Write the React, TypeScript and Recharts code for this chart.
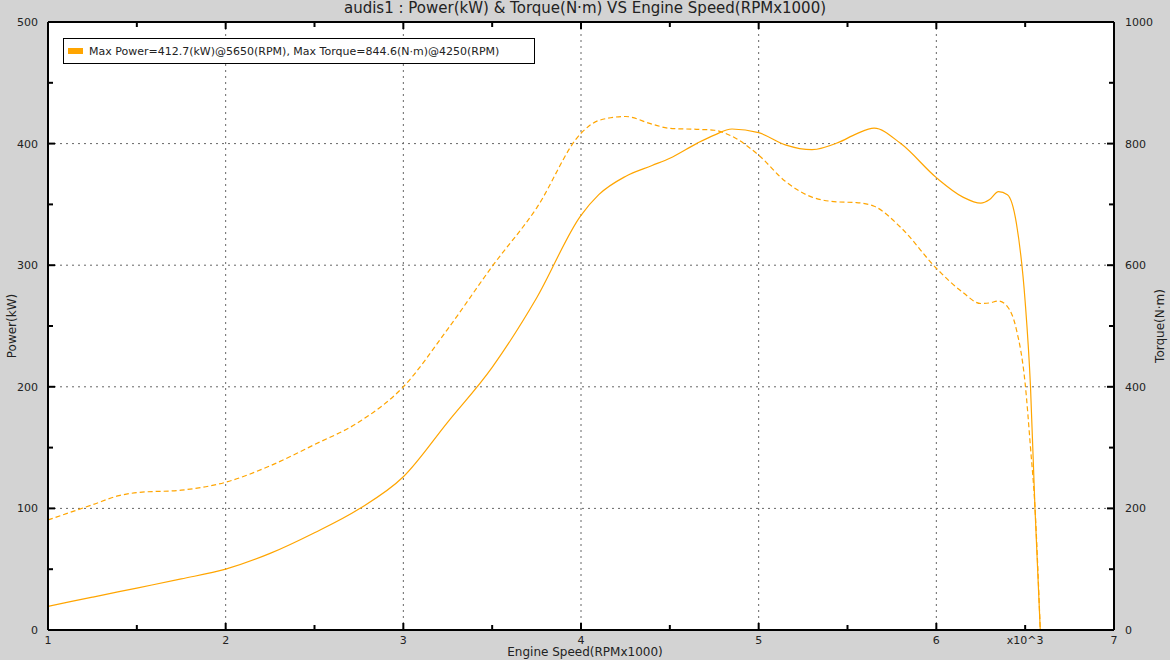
import React from 'react';
import {
  LineChart,
  Line,
  XAxis,
  YAxis,
  ReferenceLine,
} from 'recharts';

// engine speed in RPM x 1000
const rpm = [
  1.0, 1.25, 1.4, 1.5, 1.75, 2.0, 2.25, 2.5, 2.75, 3.0, 3.25, 3.5, 3.75, 4.0,
  4.1, 4.25, 4.4, 4.5, 4.65, 4.75, 4.85, 5.0, 5.15, 5.3, 5.45, 5.55, 5.65, 5.8,
  6.0, 6.15, 6.25, 6.3, 6.35, 6.4, 6.45, 6.5, 6.53, 6.555, 6.585,
];
// kW
const power = [
  19.5, 27, 31.5, 34.5, 42, 50, 63, 80, 99.5, 126, 171, 216, 273, 341,
  358, 373, 382, 388, 400, 407, 412, 409, 399, 395, 401, 408, 412.7, 400,
  372, 356, 351, 354, 360.5, 358, 335, 270, 200, 101, 0,
];
// N·m
const torque = [
  181, 206, 221, 226, 230, 243, 270, 305, 342, 400, 495, 598, 694, 817,
  838, 844.6, 832, 825, 823.5, 822, 812, 781, 738, 712, 704, 703, 697, 662,
  595, 555, 537, 538, 541, 532, 495, 405, 300, 203, 0,
];

const xTicks = [1, 1.5, 2, 2.5, 3, 3.5, 4, 4.5, 5, 5.5, 6, 6.5, 7];
const powerTicks = [0, 50, 100, 150, 200, 250, 300, 350, 400, 450, 500];
const torqueTicks = [0, 100, 200, 300, 400, 500, 600, 700, 800, 900, 1000];
const xGrid = [2, 3, 4, 5, 6];
const powerGrid = [100, 200, 300, 400];

const maxPower = { value: 412.7, rpm: 5650 };
const maxTorque = { value: 844.6, rpm: 4250 };

const data = rpm.map((r, i) => ({ rpm: r, power: power[i], torque: torque[i] }));

const FONT = '"DejaVu Sans", Verdana, sans-serif';
const ORANGE = '#FFA500';
const TXT = '#222';

const BottomTick = (props: any) => {
  const { x, y, payload } = props;
  const v = payload.value;
  const major = Number.isInteger(v);
  const label = major ? String(v) : v === 6.5 ? 'x10^3' : '';
  return (
    <g>
      <line x1={x} x2={x} y1={y} y2={y - (major ? 7 : 5)} stroke="#000" strokeWidth={2} />
      {label && (
        <text x={x} y={y + 14} textAnchor="middle" fontSize={11} fill={TXT} fontFamily={FONT}>
          {label}
        </text>
      )}
    </g>
  );
};

const TopTick = (props: any) => {
  const { x, y, payload } = props;
  const major = Number.isInteger(payload.value);
  return <line x1={x} x2={x} y1={y} y2={y + (major ? 7 : 5)} stroke="#000" strokeWidth={2} />;
};

const LeftTick = (props: any) => {
  const { x, y, payload } = props;
  const major = payload.value % 100 === 0;
  return (
    <g>
      <line x1={x} x2={x + (major ? 7 : 5)} y1={y} y2={y} stroke="#000" strokeWidth={2} />
      {major && (
        <text x={x - 10} y={y + 4} textAnchor="end" fontSize={11} fill={TXT} fontFamily={FONT}>
          {payload.value}
        </text>
      )}
    </g>
  );
};

const RightTick = (props: any) => {
  const { x, y, payload } = props;
  const major = payload.value % 200 === 0;
  return (
    <g>
      <line x1={x} x2={x - (major ? 7 : 5)} y1={y} y2={y} stroke="#000" strokeWidth={2} />
      {major && (
        <text x={x + 11} y={y + 4} textAnchor="start" fontSize={11} fill={TXT} fontFamily={FONT}>
          {payload.value}
        </text>
      )}
    </g>
  );
};

const frame = { stroke: '#000', strokeWidth: 2 };

export default function App() {
  return (
    <div
      style={{
        position: 'absolute',
        left: 0,
        top: 0,
        width: 1170,
        height: 660,
        background: '#d3d3d3',
        fontFamily: FONT,
        color: TXT,
      }}
    >
      {/* plot background */}
      <div style={{ position: 'absolute', left: 48, top: 22, width: 1066, height: 608, background: '#fff' }} />

      <div style={{ position: 'absolute', left: 0, top: 0 }}>
        <LineChart
          width={1170}
          height={660}
          data={data}
          margin={{ top: 21, right: 55, bottom: 29, left: 47 }}
        >
          <XAxis
            xAxisId={0}
            type="number"
            dataKey="rpm"
            domain={[1, 7]}
            ticks={xTicks}
            interval={0}
            height={1}
            tickSize={0}
            tickMargin={0}
            tickLine={false}
            axisLine={frame}
            tick={BottomTick}
            allowDataOverflow
          />
          <XAxis
            xAxisId="top"
            orientation="top"
            type="number"
            dataKey="rpm"
            domain={[1, 7]}
            ticks={xTicks}
            interval={0}
            height={1}
            tickSize={0}
            tickMargin={0}
            tickLine={false}
            axisLine={frame}
            tick={TopTick}
            allowDataOverflow
          />
          <YAxis
            yAxisId="left"
            domain={[0, 500]}
            ticks={powerTicks}
            interval={0}
            width={1}
            tickSize={0}
            tickMargin={0}
            tickLine={false}
            axisLine={frame}
            tick={LeftTick}
            allowDataOverflow
          />
          <YAxis
            yAxisId="right"
            orientation="right"
            domain={[0, 1000]}
            ticks={torqueTicks}
            interval={0}
            width={1}
            tickSize={0}
            tickMargin={0}
            tickLine={false}
            axisLine={frame}
            tick={RightTick}
            allowDataOverflow
          />
          {xGrid.map((v) => (
            <ReferenceLine key={'x' + v} x={v} yAxisId="left" stroke="#666" strokeDasharray="2 4" />
          ))}
          {powerGrid.map((v) => (
            <ReferenceLine key={'y' + v} y={v} yAxisId="left" stroke="#666" strokeDasharray="2 4" />
          ))}
          <Line
            yAxisId="left"
            type="monotone"
            dataKey="power"
            stroke={ORANGE}
            strokeWidth={1.2}
            dot={false}
            isAnimationActive={false}
          />
          <Line
            yAxisId="right"
            type="monotone"
            dataKey="torque"
            stroke={ORANGE}
            strokeWidth={1.2}
            strokeDasharray="5 3"
            dot={false}
            isAnimationActive={false}
          />
        </LineChart>
      </div>

      <div
        style={{
          position: 'absolute',
          top: 0,
          left: 0,
          width: 1170,
          textAlign: 'center',
          fontSize: 15,
          lineHeight: '17px',
        }}
      >
        audis1 : Power(kW) &amp; Torque(N·m) VS Engine Speed(RPMx1000)
      </div>

      <div
        style={{
          position: 'absolute',
          top: 38,
          left: 63,
          width: 472,
          height: 26,
          boxSizing: 'border-box',
          background: '#fff',
          border: '1px solid #000',
          display: 'flex',
          alignItems: 'center',
          fontSize: 11,
          whiteSpace: 'nowrap',
        }}
      >
        <span style={{ display: 'inline-block', width: 15, height: 6, background: ORANGE, marginLeft: 4, marginRight: 6 }} />
        {`Max Power=${maxPower.value}(kW)@${maxPower.rpm}(RPM), Max Torque=${maxTorque.value}(N·m)@${maxTorque.rpm}(RPM)`}
      </div>

      <div
        style={{
          position: 'absolute',
          top: 645,
          left: 0,
          width: 1170,
          textAlign: 'center',
          fontSize: 12,
          lineHeight: '14px',
        }}
      >
        Engine Speed(RPMx1000)
      </div>

      <div
        style={{
          position: 'absolute',
          left: 12,
          top: 326,
          transform: 'translate(-50%, -50%) rotate(-90deg)',
          fontSize: 12,
          whiteSpace: 'nowrap',
        }}
      >
        Power(kW)
      </div>

      <div
        style={{
          position: 'absolute',
          left: 1160,
          top: 326,
          transform: 'translate(-50%, -50%) rotate(-90deg)',
          fontSize: 12,
          whiteSpace: 'nowrap',
        }}
      >
        Torque(N·m)
      </div>
    </div>
  );
}
